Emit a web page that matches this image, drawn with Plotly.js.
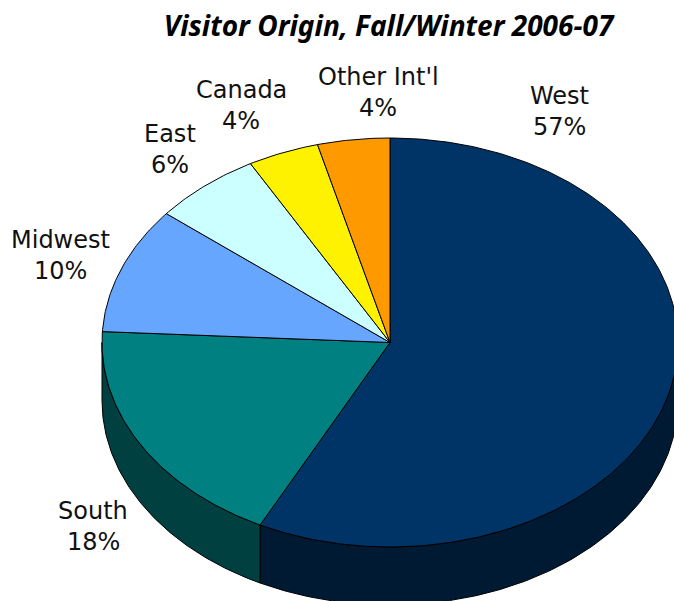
<!DOCTYPE html>
<html><head><meta charset="utf-8">
<script src="https://cdn.plot.ly/plotly-3.0.1.min.js"></script>
<style>html,body{margin:0;padding:0;background:#fff}</style></head>
<body><div id="chart" style="width:674px;height:601px"></div>
<script>
const categories = ["West","South","Midwest","East","Canada","Other Int'l"];
const values = [57.45,18.4,10,6.1,4,4.05];
const topColors = ["#003366","#008080","#66a6ff","#ccffff","#fff200","#ff9900"];
const sideColors = ["#001a33","#004040","#33537f","#668080","#807900","#804d00"];
const labelX = [559,93,60,170,241,378];
const labelY = [96,511,240,134,90,77];
const cx=390, cy=342.5, rx=288, ry=204.5, depth=58, lineGap=30.5;
const total = values.reduce((a,b)=>a+b,0);
const px = t => cx + rx*Math.sin(t), py = t => cy - ry*Math.cos(t);
let traces=[], tops=[], sides=[], start=0;
values.forEach((v,i)=>{
  const a=start/total*2*Math.PI, b=(start+v)/total*2*Math.PI; start+=v;
  const n=Math.max(8,Math.ceil((b-a)*90));
  const xs=[cx], ys=[cy];
  for(let k=0;k<=n;k++){const t=a+(b-a)*k/n; xs.push(px(t)); ys.push(py(t));}
  xs.push(cx); ys.push(cy);
  tops.push({type:'scatter',mode:'lines',x:xs,y:ys,fill:'toself',fillcolor:topColors[i],
    line:{color:'#000',width:1},hoverinfo:'skip',showlegend:false});
  const lo=Math.max(a,Math.PI/2), hi=Math.min(b,3*Math.PI/2);
  if(hi>lo){
    const up=[],dn=[],m=Math.ceil((hi-lo)*90);
    for(let k=0;k<=m;k++){const t=lo+(hi-lo)*k/m; up.push([px(t),py(t)]); dn.unshift([px(t),py(t)+depth]);}
    const pts=up.concat(dn,[up[0]]);
    sides.push({type:'scatter',mode:'lines',x:pts.map(p=>p[0]),y:pts.map(p=>p[1]),fill:'toself',fillcolor:sideColors[i],
      line:{color:'#000',width:1},hoverinfo:'skip',showlegend:false});
  }
});
traces=sides.concat(tops);
const labelFont={family:'"DejaVu Sans",Verdana,sans-serif',size:24,color:'#111'};
const annotations=[];
categories.forEach((c,i)=>{
  annotations.push({x:labelX[i],y:labelY[i],text:c,showarrow:false,xanchor:'center',yanchor:'middle',font:labelFont});
  annotations.push({x:labelX[i],y:labelY[i]+lineGap,text:Math.round(values[i])+'%',showarrow:false,xanchor:'center',yanchor:'middle',font:labelFont});
});
Plotly.newPlot('chart',traces,{
  width:674,height:601,margin:{l:0,r:0,t:0,b:0},paper_bgcolor:'#fff',plot_bgcolor:'#fff',showlegend:false,
  title:{text:'<b><i>Visitor Origin, Fall/Winter 2006-07</i></b>',x:388.5/674,xanchor:'center',y:1-26/601,yanchor:'middle',
    font:{family:'"Noto Sans","Open Sans",sans-serif',size:28,color:'#000'}},
  xaxis:{range:[0,674],visible:false,fixedrange:true},
  yaxis:{range:[601,0],visible:false,fixedrange:true},
  annotations
},{displayModeBar:false,staticPlot:true});
</script></body></html>
